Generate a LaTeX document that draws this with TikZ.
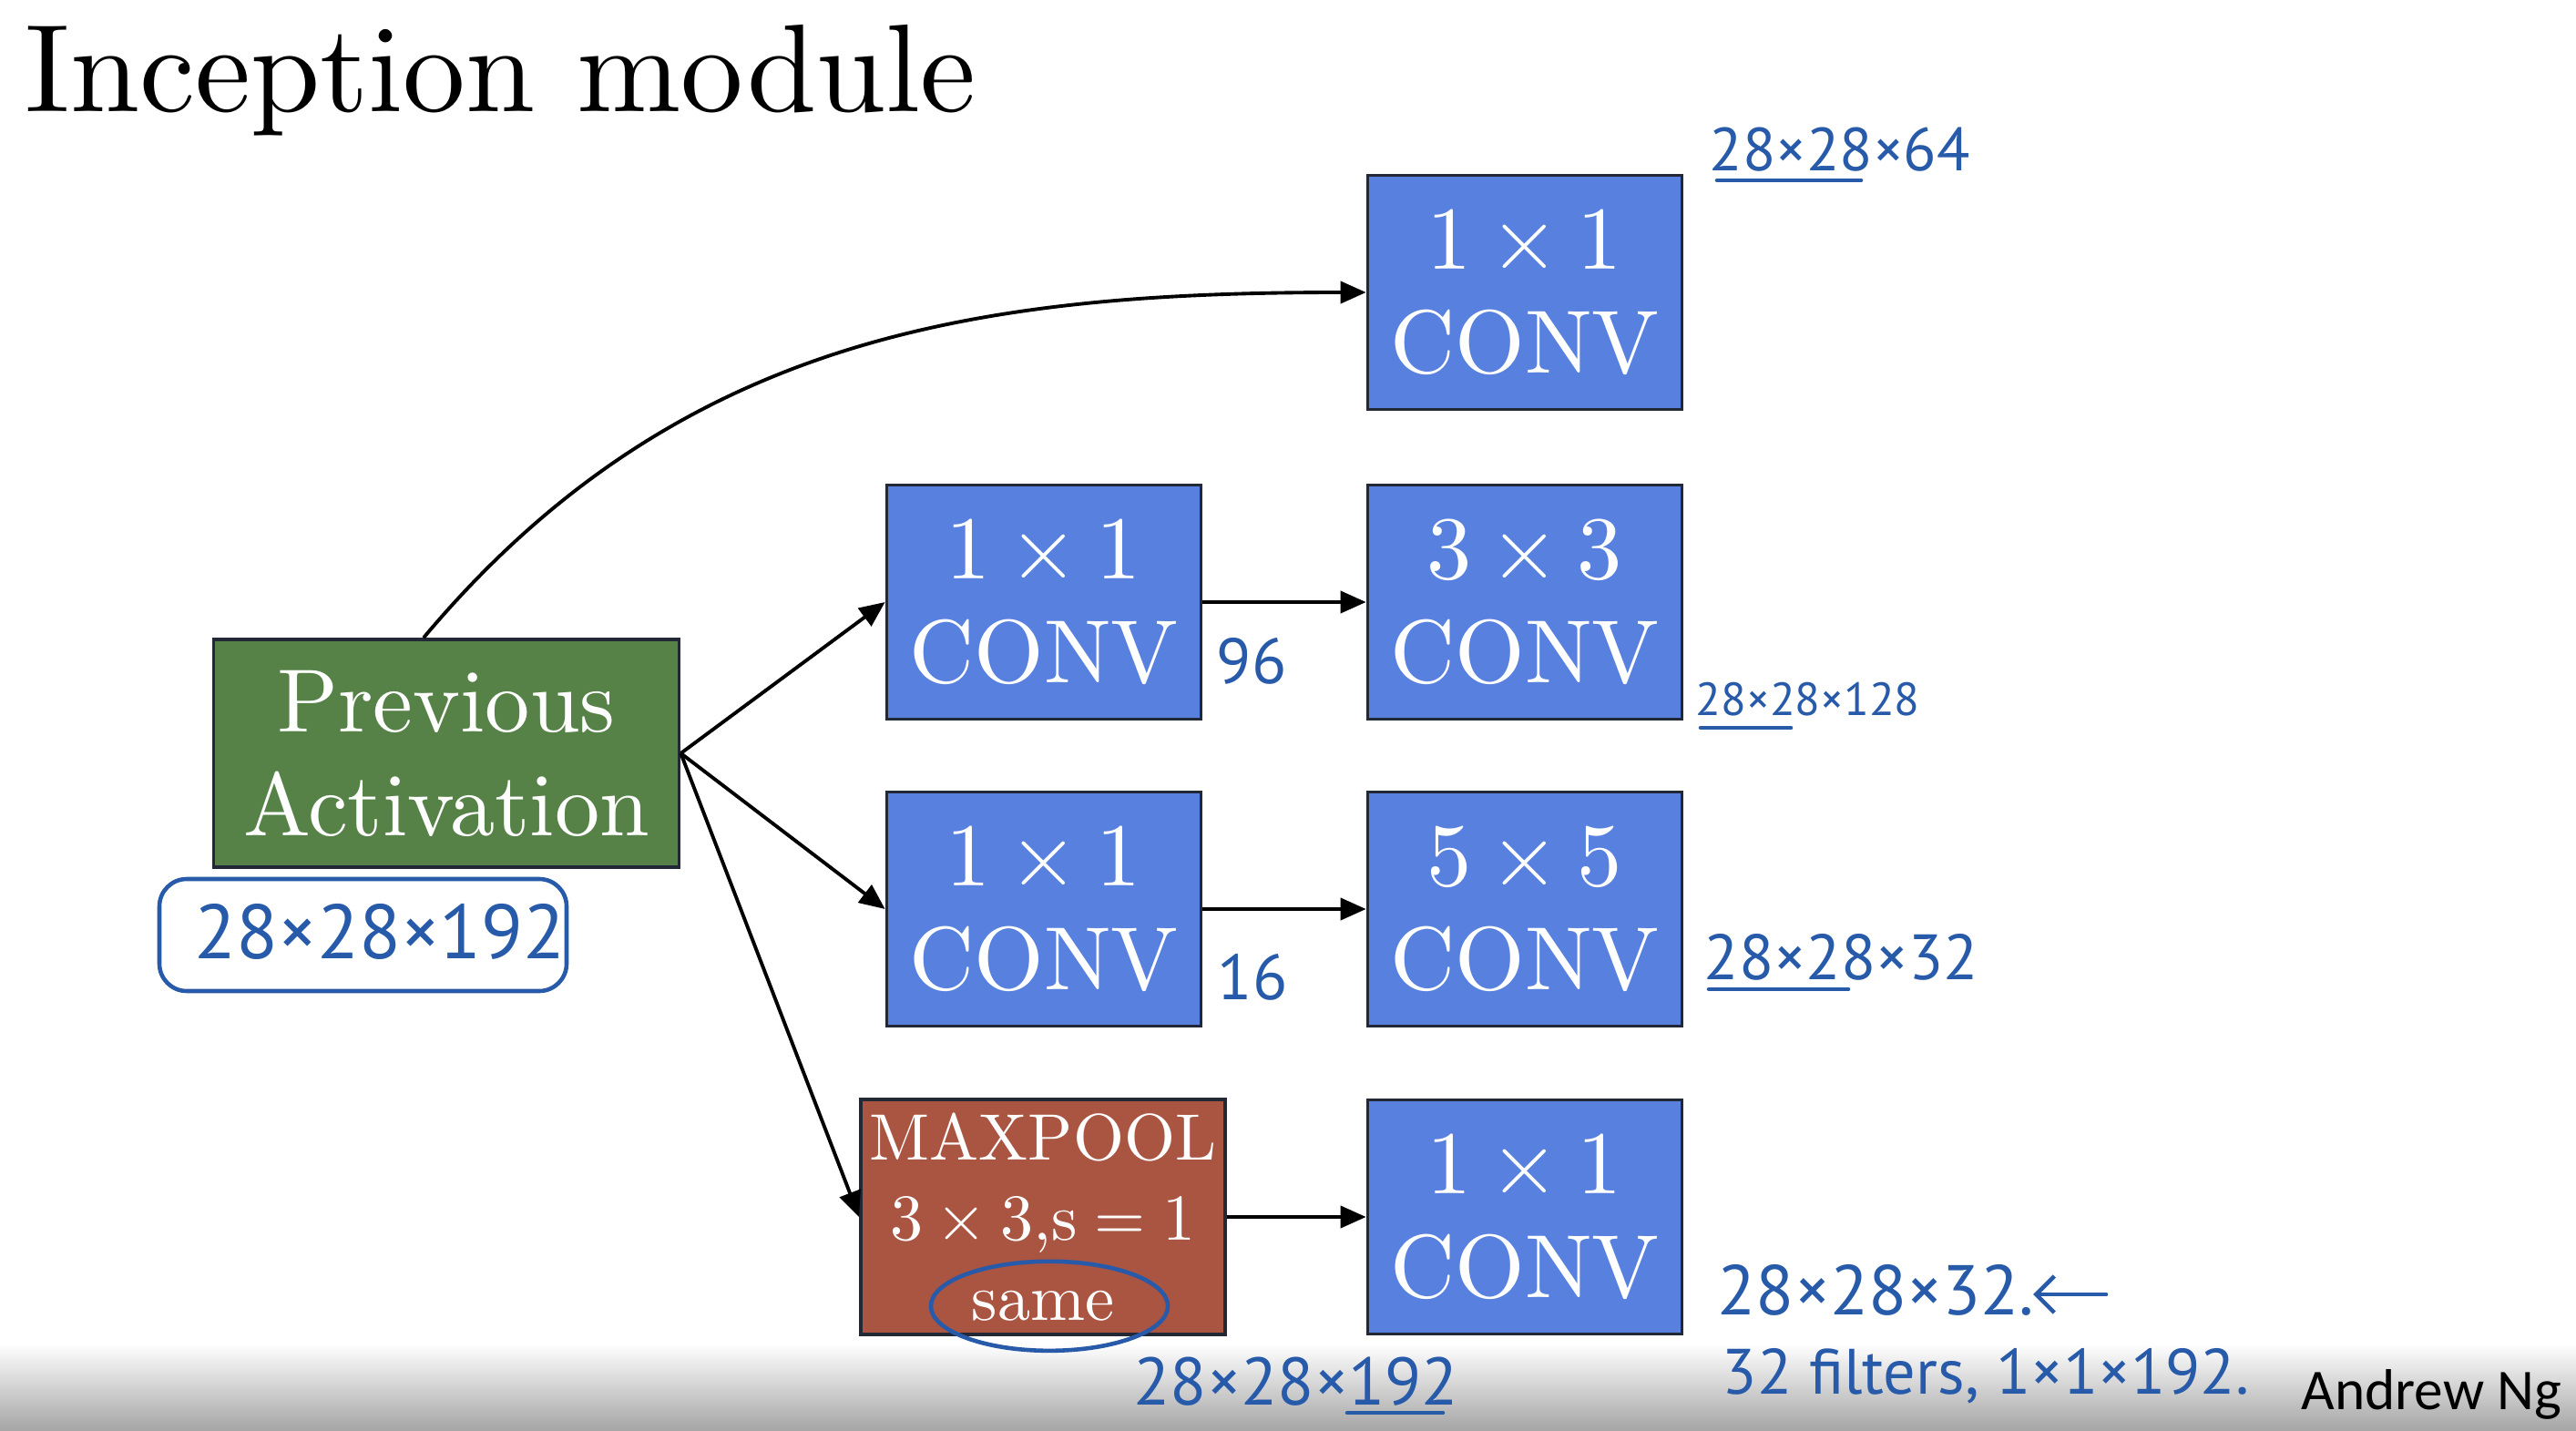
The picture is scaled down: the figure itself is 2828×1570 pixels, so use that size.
\documentclass[tikz,border=0pt]{standalone}
\usepackage{fontspec}
\usetikzlibrary{arrows.meta,positioning}
\setmainfont{lmroman10-regular.otf}
\newfontfamily\inkfont{PT Sans}
\newfontfamily\signfont{Carlito}

\definecolor{convblue}{RGB}{88,128,222}
\definecolor{prevgreen}{RGB}{86,130,72}
\definecolor{poolred}{RGB}{170,84,66}
\definecolor{inkblue}{RGB}{40,90,170}
\definecolor{boxedge}{RGB}{35,40,55}

\newcommand{\inksize}[1]{\inkfont\fontsize{#1}{#1}\selectfont}
\newcommand{\by}{\hspace{.2em}×\hspace{.2em}}

\tikzset{
  layer/.style={draw=boxedge, line width=1pt, text=white, align=center,
    minimum width=3.45cm, minimum height=2.57cm, inner sep=0pt,
    font=\fontsize{28}{32.4}\selectfont},
  conv/.style={layer, fill=convblue},
  flow/.style={-{Triangle[length=2.8mm,width=2.4mm]}, line width=1.1pt},
  ink/.style={text=inkblue, inner sep=0pt, anchor=base west},
  inkline/.style={draw=inkblue, line width=1.3pt, line cap=round},
}

\begin{document}
\begin{tikzpicture}[x=0.01cm, y=-0.01cm]

% Page and the grey fade at the bottom
\useasboundingbox (0,0) rectangle (2828,1570);
\fill[white] (0,0) rectangle (2828,1570);
\shade[top color=white, bottom color=black!35] (0,1475) rectangle (2828,1570);

% Title
\node[anchor=base west, inner sep=0pt, font=\fontsize{39}{47}\selectfont] (title) at (27,123) {Inception module};

% Input
\node[layer, fill=prevgreen, minimum width=5.11cm, minimum height=2.5cm] (prev) at (490,827) {Previous\\Activation};

% Branches
\node[conv] (conva) at (1674,321) {1\by1\\CONV};
\node[conv] (convb) at (1146,661) {1\by1\\CONV};
\node[conv] (convc) at (1674,661) {3\by3\\CONV};
\node[conv] (convd) at (1146,998) {1\by1\\CONV};
\node[conv] (conve) at (1674,998) {5\by5\\CONV};
\node[layer, fill=poolred, minimum width=4cm, minimum height=2.58cm,
  font=\fontsize{20.5}{25}\selectfont] (pool) at (1145,1336) {MAXPOOL\\3\by3,s\hspace{.26em}=\hspace{.26em}1\\same};
\node[conv] (convf) at (1674,1336) {1\by1\\CONV};

% Arrows
\draw[flow] ([xshift=-0.25cm]prev.north) to[out=50,in=180] (conva.west);
\draw[flow] (prev.east) -- (convb.west);
\draw[flow] (prev.east) -- (convd.west);
\draw[flow] (prev.east) -- (pool.west);
\draw[flow] (convb) -- (convc);
\draw[flow] (convd) -- (conve);
\draw[flow] (pool) -- (convf);

% Handwritten sizes
\node[ink, font=\inksize{24}] (insize) at (213,1052) {28×28×192};
\draw[inkline, rounded corners=0.3cm] (175,965) rectangle (622,1088);

\node[ink, font=\inksize{19}] (outa) at (1876,188) {28×28×64};
\draw[inkline] (1885,198) -- (2043,198);

\node[ink, font=\inksize{20}] (redb) at (1335,750) {96};
\node[ink, font=\inksize{14.5}] (outc) at (1861,785) {28×28×128};
\draw[inkline] (1867,799) -- (1966,799);

\node[ink, font=\inksize{20}] (redd) at (1336,1097) {16};
\node[ink, font=\inksize{20}] (oute) at (1870,1075) {28×28×32};
\draw[inkline] (1876,1086) -- (2029,1086);

% Same padding on the pool
\draw[inkline] ([xshift=0.07cm, yshift=0.33cm]pool.south) ellipse [x radius=1.3cm, y radius=0.49cm];
\node[ink, font=\inksize{21}] (poolsize) at (1244,1542) {28×28×192};
\draw[inkline] (1479,1551) -- (1584,1551);

\node[ink, font=\inksize{22}] (outf) at (1885,1443) {28×28×32.};
\coordinate (backtip) at (2232,1421);
\coordinate (backend) at (2312,1421);
\draw[inkline, {Straight Barb[length=2mm,width=4mm]}-] (backtip) -- (backend);
\node[ink, font=\inksize{20}] (filters) at (1890,1530) {32 filters, 1×1×192.};

% Signature
\node[anchor=base east, inner sep=0pt, font=\signfont\fontsize{18}{18}\selectfont] (sign) at (2813,1547) {Andrew Ng};

\end{tikzpicture}
\end{document}
